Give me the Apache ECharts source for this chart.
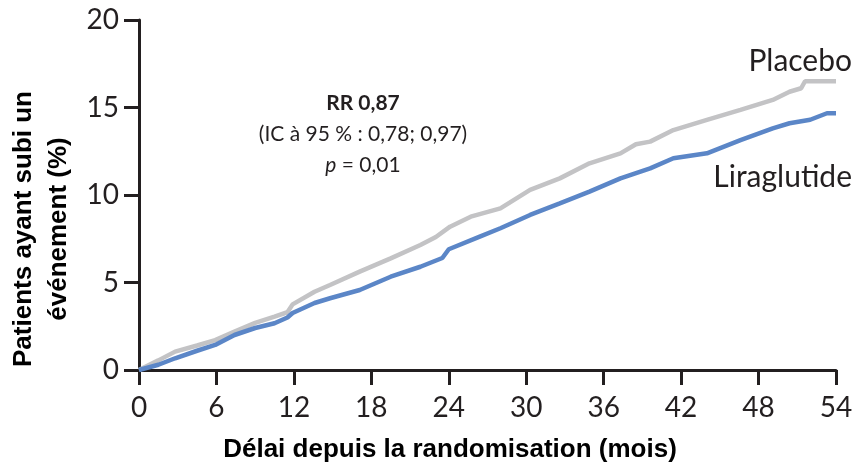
<!DOCTYPE html>
<html>
<head>
<meta charset="utf-8">
<script src="https://cdn.jsdelivr.net/npm/echarts@6/dist/echarts.min.js"></script>
<style>
  html, body { margin: 0; padding: 0; background: #fff; }
  #chart { width: 858px; height: 465px; }
</style>
</head>
<body>
<div id="chart"></div>
<script>
// Cumulative incidence (%) by months since randomisation
const placeboMonths = [0, 1.5, 2.8, 4.5, 5.9, 7.4, 9.0, 10.5, 11.5, 11.9, 13.6, 14.8, 17.1, 19.5, 21.8, 23.0, 24.1, 25.7, 28.0, 30.3, 32.6, 34.9, 37.3, 38.5, 39.6, 41.4, 44.0, 46.6, 49.1, 50.4, 51.3, 51.6, 54.0];
const placeboValues = [0, 0.55, 1.05, 1.4, 1.71, 2.19, 2.69, 3.05, 3.3, 3.75, 4.47, 4.86, 5.62, 6.38, 7.14, 7.6, 8.19, 8.76, 9.24, 10.29, 10.95, 11.81, 12.38, 12.9, 13.05, 13.71, 14.29, 14.86, 15.43, 15.9, 16.1, 16.5, 16.5];

const liraMonths = [0, 1.5, 2.8, 4.5, 5.9, 7.4, 9.0, 10.5, 11.5, 11.9, 13.6, 14.8, 17.1, 19.5, 21.8, 23.5, 24.0, 26.4, 28.0, 30.3, 32.6, 34.9, 37.3, 39.6, 41.4, 44.0, 46.6, 49.1, 50.4, 52.0, 53.3, 54.0];
const liraValues = [0, 0.3, 0.67, 1.1, 1.43, 2.0, 2.4, 2.67, 3.0, 3.26, 3.83, 4.1, 4.57, 5.33, 5.9, 6.4, 6.9, 7.62, 8.1, 8.86, 9.52, 10.19, 10.95, 11.52, 12.1, 12.38, 13.14, 13.81, 14.1, 14.3, 14.67, 14.67];

const xTicks = [0, 6, 12, 18, 24, 30, 36, 42, 48, 54];
const yTicks = [0, 5, 10, 15, 20];

const seriesNames = ['Placebo', 'Liraglutide'];
const xTitle = 'Délai depuis la randomisation (mois)';
const yTitle = 'Patients ayant subi un\névénement (%)';
const statLines = ['RR 0,87', '(IC à 95 % : 0,78; 0,97)', 'p', ' = 0,01'];

const ink = '#231f20';
const tickFont = 'Lato, "Open Sans", sans-serif';

const zip = (xs, ys) => xs.map((x, i) => [x, ys[i]]);

const chart = echarts.init(document.getElementById('chart'), null, { renderer: 'canvas' });

chart.setOption({
  backgroundColor: '#ffffff',
  animation: false,
  grid: { left: 139, right: 22, top: 20, bottom: 95, containLabel: false },
  xAxis: {
    type: 'value',
    min: xTicks[0],
    max: xTicks[xTicks.length - 1],
    interval: 6,
    axisLine: { show: true, lineStyle: { color: ink, width: 3 } },
    axisTick: { show: true, inside: false, length: 15, lineStyle: { color: ink, width: 3 } },
    axisLabel: { color: ink, fontFamily: tickFont, fontSize: 28, margin: 24 },
    splitLine: { show: false }
  },
  yAxis: {
    type: 'value',
    min: yTicks[0],
    max: yTicks[yTicks.length - 1],
    interval: 5,
    axisLine: { show: true, lineStyle: { color: ink, width: 3 } },
    axisTick: { show: true, inside: false, length: 15, lineStyle: { color: ink, width: 3 } },
    axisLabel: { color: ink, fontFamily: tickFont, fontSize: 28, margin: 20 },
    splitLine: { show: false }
  },
  series: [
    {
      name: seriesNames[0],
      type: 'line',
      data: zip(placeboMonths, placeboValues),
      showSymbol: false,
      lineStyle: { color: '#c3c3c5', width: 4.5 },
      z: 2
    },
    {
      name: seriesNames[1],
      type: 'line',
      data: zip(liraMonths, liraValues),
      showSymbol: false,
      lineStyle: { color: '#5b86c7', width: 4.5 },
      z: 3
    }
  ],
  graphic: [
    {
      type: 'text',
      right: 6, top: 46,
      style: { text: seriesNames[0], fill: ink, font: '30px Lato, "Open Sans", sans-serif' }
    },
    {
      type: 'text',
      right: 6, top: 162,
      style: { text: seriesNames[1], fill: ink, font: '30px Lato, "Open Sans", sans-serif' }
    },
    {
      type: 'text',
      x: 363, y: 88,
      style: {
        text: '{b|' + statLines[0] + '}\n{n|' + statLines[1] + '}\n{i|' + statLines[2] + '}{n|' + statLines[3] + '}',
        align: 'center',
        verticalAlign: 'top',
        rich: {
          b: { font: 'bold 21px Lato, "Open Sans", sans-serif', fill: ink, lineHeight: 31, align: 'center' },
          n: { font: '21px Lato, "Open Sans", sans-serif', fill: ink, lineHeight: 31, align: 'center' },
          i: { font: 'italic 21px Lato, "Open Sans", sans-serif', fill: ink, lineHeight: 31, align: 'center' }
        }
      }
    },
    {
      type: 'text',
      x: 450, y: 450,
      style: {
        text: xTitle, fill: '#000', align: 'center', verticalAlign: 'middle',
        font: 'bold 26px "Liberation Sans", Arial, sans-serif'
      }
    },
    {
      type: 'text',
      x: 41, y: 229,
      rotation: Math.PI / 2,
      style: {
        text: yTitle, fill: '#000', align: 'center', verticalAlign: 'middle',
        font: 'bold 26px "Liberation Sans", Arial, sans-serif', lineHeight: 35
      }
    }
  ]
});
</script>
</body>
</html>
